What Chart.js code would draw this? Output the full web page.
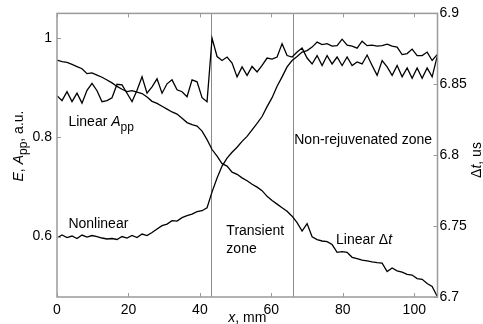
<!DOCTYPE html>
<html><head><meta charset="utf-8">
<script src="https://cdn.jsdelivr.net/npm/chart.js@4"></script>
<style>html,body{margin:0;padding:0;background:#fff}#wrap{width:483px;height:324px}</style>
</head><body><div id="wrap"><canvas id="c" width="483" height="324"></canvas></div>
<script>
// distance along sample, mm
const xPos = [0,1.4,2.8,4.2,5.6,7,8.4,9.8,11.2,12.6,14,15.4,16.8,18.2,19.6,21,22.4,23.8,25.2,26.6,28,29.4,30.8,32.2,33.6,35,36.4,37.8,39.2,40.6,42,43.4,44.8,46.2,47.6,49,50.4,51.8,53.2,54.6,56,57.4,58.8,60.2,61.6,63,64.4,65.8,67.2,68.6,70,71.4,72.8,74.2,75.6,77,78.4,79.8,81.2,82.6,84,85.4,86.8,88.2,89.6,91,92.4,93.8,95.2,96.6,98,99.4,100.8,102.2,103.6,105,106.4];
// Linear A_pp (left axis)
const appValues = [0.884,0.874,0.892,0.872,0.889,0.869,0.895,0.909,0.894,0.872,
0.874,0.880,0.907,0.906,0.889,0.872,0.895,0.922,0.889,0.902,
0.918,0.889,0.908,0.916,0.896,0.892,0.882,0.916,0.912,0.880,
0.872,1.000,0.963,0.955,0.962,0.950,0.922,0.942,0.925,0.943,
0.932,0.945,0.960,0.958,0.962,0.989,0.965,0.962,0.972,0.980,
0.960,0.948,0.965,0.945,0.965,0.948,0.962,0.945,0.962,0.945,
0.952,0.948,0.966,0.945,0.925,0.955,0.942,0.925,0.945,0.922,
0.940,0.919,0.940,0.919,0.940,0.922,0.963];
// Nonlinear E (left axis)
const nonlinearValues = [0.597,0.603,0.598,0.601,0.596,0.603,0.599,0.602,0.600,0.597,
0.595,0.596,0.594,0.600,0.597,0.602,0.598,0.605,0.602,0.608,
0.615,0.622,0.625,0.632,0.631,0.638,0.642,0.645,0.650,0.652,
0.658,0.690,0.718,0.742,0.758,0.770,0.780,0.792,0.802,0.815,
0.828,0.842,0.862,0.880,0.903,0.922,0.942,0.955,0.963,0.972,
0.975,0.982,0.992,0.987,0.989,0.984,0.985,0.998,0.986,0.984,
0.980,0.994,0.985,0.986,0.984,0.985,0.988,0.984,0.982,0.967,
0.969,0.978,0.965,0.965,0.972,0.955,0.967];
// Linear delta t, us (right axis)
const dtValues = [6.867,6.866,6.8655,6.864,6.8625,6.861,6.8575,6.858,6.8565,6.855,
6.853,6.851,6.8485,6.8465,6.8448,6.8455,6.8445,6.8435,6.841,6.838,
6.8365,6.8345,6.8325,6.8305,6.829,6.826,6.823,6.8215,6.8205,6.817,
6.811,6.804,6.7993,6.794,6.7923,6.788,6.7865,6.784,6.782,6.7795,
6.7775,6.775,6.771,6.768,6.7655,6.763,6.7605,6.757,6.7525,6.7465,
6.7518,6.7425,6.7405,6.7395,6.739,6.737,6.7315,6.732,6.7315,6.728,
6.727,6.726,6.7255,6.7248,6.7242,6.7239,6.718,6.7205,6.7185,6.7176,
6.716,6.7155,6.713,6.7125,6.7095,6.7075,6.7005];
const xTicks = [0,20,40,60,80,100];
const leftTicks = [0.6,0.8,1];
const rightTicks = [6.7,6.75,6.8,6.85,6.9];
const zoneBounds = [43,66];

const FONT = '"Liberation Sans", Arial, sans-serif';
const AXIS = '#9a9a9a';
const FS = 14;

function pts(vals){ return xPos.map((x,i)=>({x:x, y:vals[i]})); }

function runs(ctx, parts, x, y){
  let cx = x;
  for (const [t, st] of parts){
    if (st === 's'){ ctx.font = `${FS-2}px ${FONT}`; ctx.fillText(t, cx, y+5); }
    else { ctx.font = `${st==='i'?'italic ':''}${FS}px ${FONT}`; ctx.fillText(t, cx, y); }
    cx += ctx.measureText(t).width;
  }
  return cx - x;
}
function runsWidth(ctx, parts){
  let w = 0;
  for (const [t, st] of parts){
    ctx.font = st==='s' ? `${FS-2}px ${FONT}` : `${st==='i'?'italic ':''}${FS}px ${FONT}`;
    w += ctx.measureText(t).width;
  }
  return w;
}

const annotations = [
  {parts:[['Linear ','n'],['A','i'],['pp','s']], x:3.2, y:0.830, axis:'y'},
  {parts:[['Nonlinear','n']], x:3.2, y:0.624, axis:'y'},
  {parts:[['Transient','n']], x:47.4, y:0.610, axis:'y'},
  {parts:[['zone','n']], x:47.4, y:0.574, axis:'y'},
  {parts:[['Non-rejuvenated zone','n']], x:66.4, y:0.794, axis:'y'},
  {parts:[['Linear \u0394','n'],['t','i']], x:78.1, y:6.740, axis:'y2'}
];

const framePlugin = {
  id:'frame',
  beforeDatasetsDraw(chart){
    const {ctx, chartArea:a, scales} = chart;
    ctx.save();
    ctx.strokeStyle = '#8c8c8c'; ctx.lineWidth = 1;
    for (const z of zoneBounds){
      const px = Math.round(scales.x.getPixelForValue(z)) + 0.5;
      ctx.beginPath(); ctx.moveTo(px, a.top); ctx.lineTo(px, a.bottom); ctx.stroke();
    }
    ctx.restore();
  },
  afterDraw(chart){
    const {ctx, chartArea:a, scales} = chart;
    ctx.save();
    ctx.strokeStyle = AXIS; ctx.lineWidth = 1.5;
    ctx.strokeRect(a.left, a.top, a.right - a.left, a.bottom - a.top);
    ctx.lineWidth = 1;
    const TL = 4;
    for (const v of xTicks){
      const px = Math.round(scales.x.getPixelForValue(v)) + 0.5;
      ctx.beginPath(); ctx.moveTo(px, a.bottom); ctx.lineTo(px, a.bottom - TL);
      ctx.moveTo(px, a.top); ctx.lineTo(px, a.top + TL); ctx.stroke();
    }
    for (const v of leftTicks){
      const py = Math.round(scales.y.getPixelForValue(v)) + 0.5;
      ctx.beginPath(); ctx.moveTo(a.left, py); ctx.lineTo(a.left + TL, py); ctx.stroke();
    }
    for (const v of rightTicks){
      const py = Math.round(scales.y2.getPixelForValue(v)) + 0.5;
      ctx.beginPath(); ctx.moveTo(a.right, py); ctx.lineTo(a.right - TL, py); ctx.stroke();
    }
    ctx.fillStyle = '#000'; ctx.textBaseline = 'middle'; ctx.textAlign = 'left';
    for (const an of annotations){
      const px = scales.x.getPixelForValue(an.x);
      const py = scales[an.axis].getPixelForValue(an.y);
      runs(ctx, an.parts, px, py);
    }
    const xt = [['x','i'],[', mm','n']];
    const cxm = (a.left + a.right)/2;
    runs(ctx, xt, cxm - runsWidth(ctx, xt)/2, 318);
    const lt = [['E','i'],[', ','n'],['A','i'],['pp','s'],[', a.u.','n']];
    ctx.save(); ctx.translate(19, 146); ctx.rotate(-Math.PI/2);
    runs(ctx, lt, -runsWidth(ctx, lt)/2, 0); ctx.restore();
    const rt = [['\u0394','n'],['t','i'],[', us','n']];
    ctx.save(); ctx.translate(477, 160); ctx.rotate(-Math.PI/2);
    runs(ctx, rt, -runsWidth(ctx, rt)/2, 0); ctx.restore();
    ctx.restore();
  }
};

const lineStyle = {borderColor:'#000', borderWidth:1.3, pointRadius:0, tension:0, fill:false};

new Chart(document.getElementById('c').getContext('2d'), {
  type:'line',
  data:{datasets:[
    Object.assign({label:'Linear A_pp', data:pts(appValues), yAxisID:'y'}, lineStyle),
    Object.assign({label:'Nonlinear', data:pts(nonlinearValues), yAxisID:'y'}, lineStyle),
    Object.assign({label:'Linear \u0394t', data:pts(dtValues), yAxisID:'y2'}, lineStyle)
  ]},
  options:{
    responsive:false, animation:false, devicePixelRatio:1,
    layout:{padding:{top:11, left:0, right:0, bottom:0}},
    plugins:{legend:{display:false}, tooltip:{enabled:false}},
    scales:{
      x:{type:'linear', position:'bottom', min:0, max:106.5,
        afterBuildTicks:s=>{ s.ticks = xTicks.map(v=>({value:v})); },
        afterFit:s=>{ s.height = 27; },
        grid:{display:false, drawTicks:false}, border:{display:false},
        ticks:{font:{family:FONT, size:FS}, color:'#000', padding:5, maxRotation:0, autoSkip:false, callback:v=>String(v)}
      },
      y:{type:'linear', position:'left', min:0.478, max:1.05,
        afterBuildTicks:s=>{ s.ticks = leftTicks.map(v=>({value:v})); },
        afterFit:s=>{ s.width = 57; },
        grid:{display:false, drawTicks:false}, border:{display:false},
        ticks:{font:{family:FONT, size:FS}, color:'#000', padding:5, autoSkip:false, callback:v=>String(v)}
      },
      y2:{type:'linear', position:'right', min:6.7, max:6.9,
        afterBuildTicks:s=>{ s.ticks = rightTicks.map(v=>({value:v})); },
        afterFit:s=>{ s.width = 45.5; },
        grid:{display:false, drawTicks:false}, border:{display:false},
        ticks:{font:{family:FONT, size:FS}, color:'#000', padding:2, autoSkip:false, callback:v=>String(v)}
      }
    }
  },
  plugins:[framePlugin]
});
</script></body></html>
